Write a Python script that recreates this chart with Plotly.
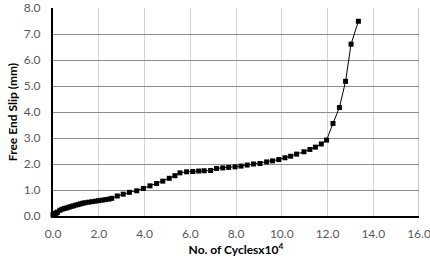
import plotly.graph_objects as go

cycles = [0.0, 0.05, 0.1, 0.15, 0.2, 0.3, 0.4, 0.5, 0.6, 0.7, 0.8, 0.9, 1.0, 1.1, 1.2, 1.3, 1.4,
          1.55, 1.7, 1.85, 2.0, 2.15, 2.3, 2.45, 2.57, 2.81, 3.07, 3.34, 3.66, 3.95, 4.24, 4.53,
          4.80, 5.08, 5.33, 5.55, 5.84, 6.11, 6.37, 6.61, 6.89, 7.15, 7.42, 7.68, 7.96, 8.22,
          8.49, 8.76, 9.05, 9.34, 9.60, 9.87, 10.14, 10.39, 10.65, 10.97, 11.23, 11.47, 11.73,
          11.96, 12.24, 12.52, 12.79, 13.03, 13.35]
slip = [0.05, 0.07, 0.1, 0.12, 0.15, 0.22, 0.26, 0.29, 0.31, 0.34, 0.37, 0.39, 0.42, 0.44, 0.47,
        0.49, 0.51, 0.53, 0.55, 0.57, 0.59, 0.61, 0.63, 0.65, 0.68, 0.77, 0.84, 0.91, 0.97, 1.06,
        1.16, 1.25, 1.34, 1.45, 1.55, 1.66, 1.70, 1.71, 1.73, 1.74, 1.75, 1.83, 1.85, 1.87, 1.89,
        1.92, 1.96, 2.00, 2.02, 2.08, 2.12, 2.17, 2.24, 2.30, 2.38, 2.47, 2.56, 2.65, 2.77, 2.92,
        3.56, 4.17, 5.18, 6.61, 7.49]

x_ticks = [0, 2, 4, 6, 8, 10, 12, 14, 16]
y_ticks = [0, 1, 2, 3, 4, 5, 6, 7, 8]

fig = go.Figure()
fig.add_trace(go.Scatter(
    x=cycles, y=slip, mode="lines+markers",
    line=dict(color="#000000", width=1),
    marker=dict(symbol="square", size=5, color="#000000"),
    showlegend=False, cliponaxis=False,
))

font_fam = "Lato, 'Open Sans', sans-serif"
fig.update_layout(
    width=430, height=266,
    margin=dict(l=53, r=11, t=8, b=50),
    paper_bgcolor="white", plot_bgcolor="white",
    font=dict(family=font_fam, size=12, color="#595959"),
    xaxis=dict(
        range=[0, 16], tickvals=x_ticks, tickformat=".1f",
        showgrid=True, gridcolor="#d4d4d4", gridwidth=1,
        showline=True, linecolor="#000000", linewidth=2,
        ticks="outside", ticklen=6, tickcolor="rgba(0,0,0,0)",
        zeroline=False, automargin=False, ticklabeloverflow="allow",
        title=dict(text="<b>No. of Cyclesx10<sup>4</sup></b>",
                   font=dict(family=font_fam, size=12, color="#000000"), standoff=4),
    ),
    yaxis=dict(
        range=[0, 8], tickvals=y_ticks, tickformat=".1f",
        showgrid=True, gridcolor="#8c8c8c", gridwidth=1,
        showline=True, linecolor="#000000", linewidth=2,
        ticks="outside", ticklen=8, tickcolor="rgba(0,0,0,0)",
        zeroline=False, automargin=False, ticklabeloverflow="allow",
        title=dict(text="<b>Free End Slip (mm)</b>",
                   font=dict(family=font_fam, size=12, color="#000000"), standoff=4),
    ),
    shapes=[
        dict(type="line", xref="x", yref="paper", x0=16, x1=16, y0=0, y1=1,
             line=dict(color="#8c8c8c", width=1)),
    ],
)

fig.write_html("out.html", config={"displayModeBar": False},
               post_script="document.body.style.margin='0';document.body.style.overflow='hidden';")
